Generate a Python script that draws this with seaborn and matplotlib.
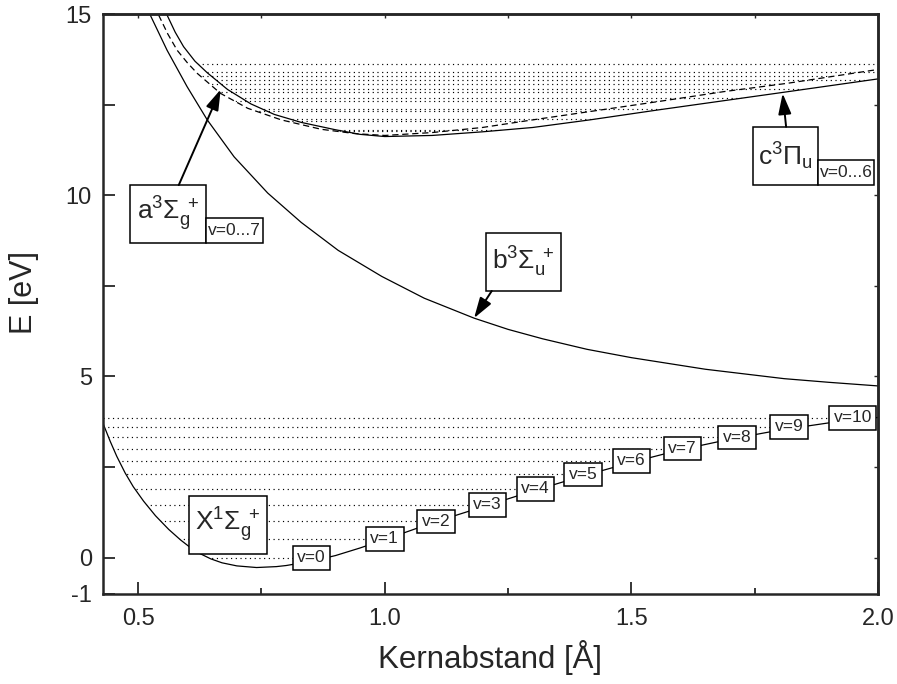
import numpy as np
import matplotlib
matplotlib.use("Agg")
import matplotlib.pyplot as plt
import seaborn as sns
from matplotlib.patches import Polygon, Rectangle

# ---------------- data ----------------
# X 1Sigma_g+ ground state
x_R = [0.4286, 0.443, 0.4565, 0.4735, 0.490, 0.511, 0.535, 0.562, 0.586, 0.603, 0.623, 0.647,
       0.67, 0.70, 0.74, 0.78, 0.80, 0.85, 0.90, 0.95, 1.0, 1.1, 1.2, 1.3, 1.4, 1.5, 1.6,
       1.7, 1.8, 1.9, 2.0]
x_E = [3.71, 3.22, 2.80, 2.34, 1.96, 1.56, 1.16, 0.78, 0.49, 0.31, 0.13, -0.03,
       -0.14, -0.225, -0.27, -0.245, -0.215, -0.10, 0.06, 0.27, 0.50, 0.98, 1.41, 1.84, 2.25,
       2.63, 2.98, 3.27, 3.52, 3.72, 3.87]
# b 3Sigma_u+ repulsive state
b_R = [0.5245, 0.5586, 0.599, 0.640, 0.6945, 0.7627, 0.8306, 0.9055, 0.994, 1.08, 1.181,
       1.25, 1.32, 1.41, 1.50, 1.65, 1.81, 1.90, 2.0]
b_E = [14.97, 14.0, 13.0, 12.08, 11.06, 10.06, 9.25, 8.48, 7.76, 7.16, 6.61,
       6.30, 6.04, 5.75, 5.52, 5.20, 4.94, 4.84, 4.74]
# upper bound state, solid curve
a_R = [0.5586, 0.575, 0.592, 0.615, 0.640, 0.681, 0.7286, 0.776, 0.8306, 0.899, 0.95, 1.0,
       1.096, 1.198, 1.30, 1.416, 1.552, 1.688, 1.803, 2.0]
a_E = [14.97, 14.5, 14.1, 13.7, 13.38, 12.92, 12.52, 12.23, 12.01, 11.81, 11.68, 11.62,
       11.65, 11.75, 11.87, 12.08, 12.35, 12.61, 12.83, 13.21]
# upper bound state, dashed curve
c_R = [0.5415, 0.56, 0.579, 0.60, 0.62, 0.667, 0.722, 0.79, 0.871, 0.94, 1.0, 1.096, 1.198,
       1.30, 1.416, 1.552, 1.688, 1.817, 2.0]
c_E = [14.97, 14.45, 14.0, 13.65, 13.36, 12.81, 12.40, 12.08, 11.82, 11.70, 11.65, 11.73, 11.87,
       12.08, 12.31, 12.58, 12.86, 13.09, 13.47]

# vibrational levels
x_levels = [0.0, 0.52, 1.00, 1.46, 1.90, 2.30, 2.67, 3.01, 3.32, 3.61, 3.86]
x_turn_R = [0.851, 1.0, 1.104, 1.208, 1.306, 1.402, 1.50, 1.603, 1.714, 1.82, 1.949]
a_levels = [11.79, 12.10, 12.39, 12.67, 12.93, 13.18, 13.41, 13.62]
c_levels = [11.76, 12.05, 12.33, 12.59, 12.84, 13.07, 13.29]

x_ticks = [0.5, 1.0, 1.5, 2.0]
x_minor = [0.75, 1.25, 1.75]
y_ticks = [-1, 0, 5, 10, 15]
y_minor = [2.5, 7.5, 12.5]

# ---------------- style ----------------
sns.set_style("ticks")
plt.rcParams["font.family"] = ["Liberation Sans", "DejaVu Sans"]
plt.rcParams["mathtext.fontset"] = "custom"
plt.rcParams["mathtext.rm"] = "Liberation Sans"
plt.rcParams["mathtext.it"] = "Liberation Sans"
plt.rcParams["mathtext.bf"] = "Liberation Sans:bold"

fig = plt.figure(figsize=(8.97, 6.84), dpi=100)
ax = fig.add_axes([0.1148, 0.1316, 0.8640, 0.8479])
XMIN, XMAX = 0.4286, 2.0
ax.set_xlim(XMIN, XMAX)
ax.set_ylim(-1, 15)

# ---------------- curves ----------------
for R, E, ls in [(x_R, x_E, "-"), (b_R, b_E, "-"), (a_R, a_E, "-"), (c_R, c_E, "--")]:
    sns.lineplot(x=R, y=E, ax=ax, color="black", lw=0.9, sort=False, estimator=None)
    ax.lines[-1].set_solid_joinstyle("round")
    if ls == "--":
        ax.lines[-1].set_dashes([5, 3])

# ---------------- vibrational levels clipped inside their wells ----------------
def well_clip(R, E):
    pts = np.column_stack([list(R) + [XMAX, R[0]], list(E) + [40, 40]])
    return Polygon(pts, closed=True, transform=ax.transData)

for levels, R, E in [(x_levels, x_R, x_E), (a_levels, a_R, a_E), (c_levels, c_R, c_E)]:
    lc = ax.hlines(levels, XMIN, XMAX, colors="black", linestyles=(0, (1, 3)), lw=0.85, zorder=2)
    lc.set_clip_path(well_clip(R, E))

# ---------------- v labels ----------------
for i, (r, e) in enumerate(zip(x_turn_R, x_levels)):
    ax.text(r, e, f"v={i}", ha="center", va="center", fontsize=12.5, zorder=6,
            bbox=dict(boxstyle="square,pad=0.25", fc="white", ec="black", lw=1.1))

# ---------------- state label boxes ----------------
def label_box(x0, x1, y0, y1, text, fs):
    ax.add_patch(Rectangle((x0, y0), x1 - x0, y1 - y0, fc="white", ec="black", lw=1.1, zorder=5))
    ax.text((x0 + x1) / 2, (y0 + y1) / 2, text, ha="center", va="center", fontsize=fs, zorder=6)

label_box(0.6027, 0.7606, 0.11, 1.71, r"X$^1\Sigma_\mathrm{g}^{\ +}$", 19)
label_box(0.4837, 0.6367, 8.68, 10.28, r"a$^3\Sigma_\mathrm{g}^{\ +}$", 19)
label_box(0.6367, 0.7537, 8.68, 9.37, "v=0...7", 12.5)
label_box(1.2047, 1.3565, 7.36, 8.97, r"b$^3\Sigma_\mathrm{u}^{\ +}$", 19)
label_box(1.7469, 1.8782, 10.28, 11.89, r"c$^3\Pi_\mathrm{u}$", 19)
label_box(1.8782, 1.9924, 10.28, 10.97, "v=0...6", 12.5)

arrow = dict(arrowstyle="-|>,head_length=0.7,head_width=0.22", color="black", lw=1.4,
             mutation_scale=18, shrinkA=0, shrinkB=0)
ax.annotate("", xy=(0.6673, 12.92), xytext=(0.5822, 10.28), arrowprops=arrow, zorder=7)
ax.annotate("", xy=(1.181, 6.61), xytext=(1.2169, 7.36), arrowprops=arrow, zorder=7)
ax.annotate("", xy=(1.8067, 12.81), xytext=(1.8137, 11.89), arrowprops=arrow, zorder=7)

# ---------------- axes ----------------
ax.set_xticks(x_ticks)
ax.set_xticks(x_minor, minor=True)
ax.set_xticklabels([f"{t:.1f}" for t in x_ticks])
ax.set_yticks(y_ticks)
ax.set_yticks(y_minor, minor=True)
ax.set_yticklabels([str(t) for t in y_ticks])
ax.tick_params(axis="x", which="major", direction="in", length=8.5, width=1.3, labelsize=17, pad=10)
ax.tick_params(axis="x", which="minor", direction="in", length=4.3, width=1.3)
ax.tick_params(axis="y", which="both", direction="in", length=8.5, width=1.3, labelsize=17, pad=8)
for s in ax.spines.values():
    s.set_linewidth(1.8)

top = ax.secondary_xaxis("top")
top.set_xticks(x_ticks + x_minor)
top.tick_params(direction="in", length=3, width=1.0, labeltop=False)
top.spines["top"].set_linewidth(1.8)
right = ax.secondary_yaxis("right")
right.set_yticks(y_ticks[1:] + y_minor)
right.tick_params(direction="in", length=3, width=1.0, labelright=False)
right.spines["right"].set_linewidth(1.8)

ax.set_xlabel("Kernabstand [Å]", fontsize=22.5)
ax.set_ylabel("E [eV]", fontsize=22)
ax.xaxis.set_label_coords(0.5, -0.08)
ax.yaxis.set_label_coords(-0.083, 0.52)

fig.savefig("out.png", dpi=100)
